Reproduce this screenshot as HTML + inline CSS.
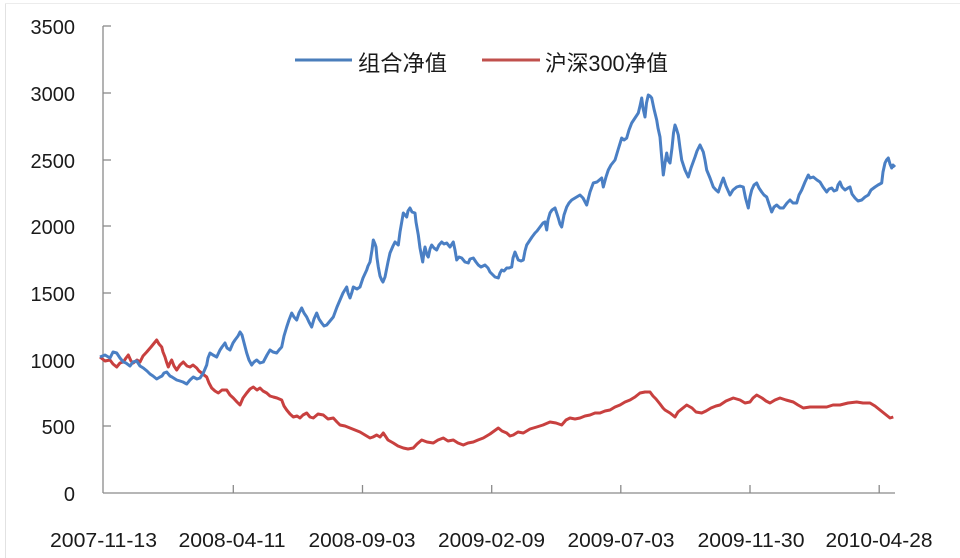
<!DOCTYPE html>
<html><head><meta charset="utf-8"><style>
html,body{margin:0;padding:0;background:#fff;}
svg{display:block;}
text{font-family:"Liberation Sans","Noto Sans CJK SC",sans-serif;fill:#1a1a1a;}
</style></head><body>
<svg width="960" height="558" viewBox="0 0 960 558" xmlns="http://www.w3.org/2000/svg">
<rect x="0" y="0" width="960" height="558" fill="#fff"/>
<line x1="5.5" y1="3" x2="5.5" y2="558" stroke="#e2e2e2" stroke-width="1"/>
<line x1="5" y1="3.5" x2="960" y2="3.5" stroke="#ececec" stroke-width="1"/>
<!-- axes -->
<g stroke="#8a8a8a" stroke-width="1.3" fill="none">
<line x1="103" y1="26" x2="103" y2="493"/>
<line x1="103" y1="493" x2="895" y2="493"/>
<line x1="103" y1="26" x2="111" y2="26"/>
<line x1="103" y1="93" x2="111" y2="93"/>
<line x1="103" y1="160" x2="111" y2="160"/>
<line x1="103" y1="226" x2="111" y2="226"/>
<line x1="103" y1="293" x2="111" y2="293"/>
<line x1="103" y1="360" x2="111" y2="360"/>
<line x1="103" y1="426" x2="111" y2="426"/>
<line x1="233.3" y1="485" x2="233.3" y2="493"/>
<line x1="362.5" y1="485" x2="362.5" y2="493"/>
<line x1="491.7" y1="485" x2="491.7" y2="493"/>
<line x1="620.8" y1="485" x2="620.8" y2="493"/>
<line x1="750" y1="485" x2="750" y2="493"/>
<line x1="879.2" y1="485" x2="879.2" y2="493"/>
</g>
<!-- y labels -->
<g font-size="20" text-anchor="end">
<text x="75" y="34">3500</text>
<text x="75" y="101">3000</text>
<text x="75" y="168">2500</text>
<text x="75" y="234">2000</text>
<text x="75" y="301">1500</text>
<text x="75" y="368">1000</text>
<text x="75" y="434">500</text>
<text x="75" y="501">0</text>
</g>
<!-- x labels -->
<g font-size="20" text-anchor="middle">
<text x="103.5" y="547" textLength="107" lengthAdjust="spacingAndGlyphs">2007-11-13</text>
<text x="232" y="547" textLength="107" lengthAdjust="spacingAndGlyphs">2008-04-11</text>
<text x="362" y="547" textLength="107" lengthAdjust="spacingAndGlyphs">2008-09-03</text>
<text x="491.5" y="547" textLength="107" lengthAdjust="spacingAndGlyphs">2009-02-09</text>
<text x="621" y="547" textLength="107" lengthAdjust="spacingAndGlyphs">2009-07-03</text>
<text x="751" y="547" textLength="107" lengthAdjust="spacingAndGlyphs">2009-11-30</text>
<text x="879" y="547" textLength="107" lengthAdjust="spacingAndGlyphs">2010-04-28</text>
</g>
<!-- legend -->
<line x1="295" y1="60" x2="352" y2="60" stroke="#4a7ebb" stroke-width="3"/>
<text x="358" y="71" font-size="22" textLength="89" lengthAdjust="spacingAndGlyphs">组合净值</text>
<line x1="482" y1="60" x2="540" y2="60" stroke="#c0504d" stroke-width="3"/>
<text x="545" y="71" font-size="22" textLength="123" lengthAdjust="spacingAndGlyphs">沪深300净值</text>
<!-- red series -->
<polyline fill="none" stroke="#c8403f" stroke-width="3" stroke-linejoin="round" points="
100,357 105,361 110,360 113,364 116.7,367 120,363 123.3,362 126,358 128.3,355 131,361 133.3,363 137,360 140,362 143,356 146.7,352 151,347 156.7,340 159,344 161.7,347 163,352 165,357 166.5,362 168.3,367 170,363 171.7,360 174,366 176.7,370 180,365 183.3,362 187,366 190,367 193,365 196.7,368 199,371 201.7,373 204,375 206.7,377 209,383 211.7,388 215,391 218.3,393 222,390 226.7,390 230,395 233.3,398 237,402 240,405 243,398 246.7,393 250,389 253.3,387 257,390 260,388 263,391 266.7,393 270,396 273.3,397 277,398 281.7,400 284,406 286.7,410 290,414 293.3,417 297,416 300,418 303,415 306.7,413 310,417 313.3,418 318,414 323.3,415 328,419 333.3,418 337,422 340,425 345,426 350,428 355,430 360,432 365,435 370,438 373,437 376.7,435 380,437 383.3,433 388,440 393.3,443 398,446 403.3,448 408,449 413.3,448 417,444 421.7,440 427,442 433.3,443 438,440 443.3,438 448,441 453.3,440 458,443 463.3,445 468,443 473.3,442 478,440 483.3,438 490,434 498.3,428 502,431 506.7,433 510,436 513.3,435 518,432 523.3,433 530,429 536.7,427 543,425 550,422 556,423 561.7,425 566,420 570,418 575,419 580,418 585,416 590,415 595,413 600,413 605,411 610,410 615,407 620,405 625,402 630,400 635,397 640,393 645,392 650,392 653,396 656,399 660,404 663,408 665,410 670,413 675,417 678,412 681.7,409 686.7,405 692,408 696,412 701.7,413 706,411 711,408 716,406 720,405 726,401 733.3,398 740,400 745,403 750,402 753,398 756.7,395 762,398 766,401 770,403 775,400 780,398 786,400 793.3,402 798,405 803.3,408 810,407 818,407 826.7,407 833,405 840,405 848,403 856.7,402 863,403 870,403 875,406 880,410 885,414 890,418 893.3,417"/>
<!-- blue series -->
<polyline fill="none" stroke="#4a7fc4" stroke-width="3" stroke-linejoin="round" points="
100,357 105,355 110,358 113,352 116.7,353 120,358 123.3,362 126,363 130,366 133,362 136.7,361 140,366 143.3,368 147,371 150,374 153,376 156.7,379 160,377 162,376 164,373 166.7,372 170,376 172,377 176.7,380 180,381 183,382 186.7,384 190,380 193.3,377 197,379 200,378 203.3,373 206.7,365 208,358 210,353 213,355 216.7,357 220,350 222,347 225,343 227,348 230,350 233,343 235,340 238,336 240,332 242,335 243.3,340 246.7,353 249,360 251.7,365 254,362 256.7,360 260,363 263.3,362 267,355 270,350 273,352 276.7,353 279,350 281.7,347 284,336 286.7,327 289,320 291.7,313 294,317 296.7,320 299,313 301.7,308 304,313 306.7,317 309,322 311.7,327 314,319 316.7,313 319,319 321.7,323 324,326 326.7,325 330,321 333.3,317 337,307 340,300 343,293 346.7,287 348,293 350,298 352,292 353.3,287 357,289 360,287 363,278 366.7,270 368,266 370,262 372,250 373.3,240 375,244 376,247 377,258 378.3,267 380,276 381.7,280 383,282 385,277 388,262 390,253 393,246 395,242 398.3,245 400,232 403.3,213 405,215 406.7,217 408,211 410,208 412,212 415,213 416,222 418.3,235 420,248 422.7,262 424,252 425,247 427,255 428.3,257 430,249 431.7,245 434,248 436.7,250 439,245 441.7,242 444,244 446.7,243 450,247 453.3,242 455,250 456.7,260 459,257 461.7,258 465,262 468.3,263 470,259 473.3,258 476,262 478.3,265 481,267 485,265 488,268 490,272 493,275 495,277 498.3,278 500,273 501.7,270 504,271 506.7,268 509,268 511.7,267 513,258 515,252 517,257 518.3,260 521,261 523.3,260 525,251 526.7,245 530,240 532,237 535,233 537,231 540,227 543,223 545,222 546.7,230 548,220 550,213 552,210 555,208 557,214 558.3,218 560,224 561.7,227 564,215 566.7,207 569,203 571.7,200 575,198 580,195 583,198 586.7,205 590,192 593.3,183 597,182 601.7,178 603.3,187 606,177 608.3,170 611,165 615,160 618,150 621.7,138 624,140 626.7,138 629,130 631.7,123 635,118 638.3,113 640,106 641.7,98 643,108 645,117 646.5,103 648.3,95 650,96 651.7,98 654,109 656.7,120 658,128 660,137 661.5,155 663.3,175 665,163 666.7,153 668,160 670,163 672,148 673.5,133 675,125 676.5,129 678.3,135 680,148 681.7,160 685,170 688.3,177 691,168 695,157 697,151 700,145 703.3,152 705,160 706.7,170 710,178 713.3,187 716,190 718.3,192 721,184 723.3,178 726,186 730,195 733,190 736.7,187 740,186 743.3,187 745.5,198 748.3,208 750,197 751.7,190 754,185 756.7,183 759,188 761.7,192 764,195 766.7,197 769,204 771.7,212 774,207 776.7,205 780,208 783.3,208 787,203 790,200 793,203 796.7,203 799,195 801.7,190 805,182 808.3,175 810,178 813.3,177 817,180 820,182 823,187 826.7,192 829,189 831.7,188 834,191 836.7,190 838,185 840,182 842,187 845,190 848,188 850,187 852,194 855,198 858,201 861.7,200 865,197 868.3,195 871,190 875,187 878,185 881.7,183 883,172 885,163 886.5,160 888.3,158 890,164 891.7,168 893,165 895,167"/>
</svg>
</body></html>
